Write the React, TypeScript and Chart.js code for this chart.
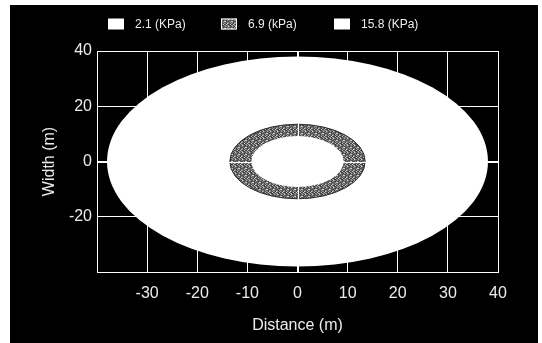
import React, { useEffect, useRef } from 'react';
import { Chart, registerables } from 'chart.js';

Chart.register(...registerables);

// Pressure zones (circles centred at the source), radius in metres
const zoneLabels = ['2.1 (KPa)', '6.9 (kPa)', '15.8 (KPa)'];
const zoneRadii = [38, 13.5, 9.2];
const zoneCenterX = [0, 0, 0];
const zoneCenterY = [0, 0, 0];
const zoneStyles = ['white', 'stipple', 'white'];

// Axis ticks
const xTicks = [-40, -30, -20, -10, 0, 10, 20, 30, 40];
const yTicks = [-40, -20, 0, 20, 40];
const hiddenTicks = [-40];

const FONT = '"Liberation Sans", Arial, sans-serif';
const TEXT = '#ececec';

// texture tones for the stippled fill (visual style only)
const stippleTones = ['#3c3c3c', '#5a5a5a', '#707070', '#8a8a8a', '#a2a2a2', '#cfcfcf', '#4c4c4c'];

function makeStipple(ctx: CanvasRenderingContext2D): CanvasPattern | string {
  const n = 7;
  const c = document.createElement('canvas');
  c.width = n;
  c.height = n;
  const p = c.getContext('2d');
  if (!p) return '#777';
  for (let r = 0; r < n; r++) {
    for (let col = 0; col < n; col++) {
      const k = (r * 3 + col * 5 + ((r * col) % 4)) % stippleTones.length;
      p.fillStyle = stippleTones[k];
      p.fillRect(col, r, 1, 1);
    }
  }
  return ctx.createPattern(c, 'repeat') || '#777';
}

const zonePlugin = {
  id: 'zones',
  beforeDatasetsDraw(chart: any) {
    const { ctx, chartArea, scales } = chart;
    const xs = scales.x;
    const ys = scales.y;
    const stipple = makeStipple(ctx);
    ctx.save();
    ctx.beginPath();
    ctx.rect(chartArea.left, chartArea.top, chartArea.right - chartArea.left, chartArea.bottom - chartArea.top);
    ctx.clip();
    zoneRadii.forEach((r, i) => {
      const cx = xs.getPixelForValue(zoneCenterX[i]);
      const cy = ys.getPixelForValue(zoneCenterY[i]);
      const rx = Math.abs(xs.getPixelForValue(zoneCenterX[i] + r) - cx);
      const ry = Math.abs(ys.getPixelForValue(zoneCenterY[i] + r) - cy);
      ctx.beginPath();
      ctx.ellipse(cx, cy, rx, ry, 0, 0, Math.PI * 2);
      ctx.fillStyle = zoneStyles[i] === 'stipple' ? stipple : '#ffffff';
      ctx.fill();
      if (zoneStyles[i] === 'stipple') {
        ctx.strokeStyle = '#2a2a2a';
        ctx.lineWidth = 1;
        ctx.stroke();
      }
    });
    // zero lines drawn over the zones
    const x0 = Math.round(xs.getPixelForValue(0)) + 0.5;
    const y0 = Math.round(ys.getPixelForValue(0)) + 0.5;
    ctx.strokeStyle = '#ffffff';
    ctx.lineWidth = 1;
    ctx.beginPath();
    ctx.moveTo(x0, chartArea.top);
    ctx.lineTo(x0, chartArea.bottom);
    ctx.moveTo(chartArea.left, y0);
    ctx.lineTo(chartArea.right, y0);
    ctx.stroke();
    ctx.restore();
  },
};

const legendPlugin = {
  id: 'zoneLegend',
  afterDraw(chart: any) {
    const { ctx, width } = chart;
    const stipple = makeStipple(ctx);
    const stride = 113;
    const boxW = 16;
    const boxH = 11;
    const total = stride * (zoneLabels.length - 1) + 88;
    const x = Math.round(width / 2 - 9 - total / 2);
    const yc = 19;
    ctx.save();
    ctx.font = `12px ${FONT}`;
    ctx.textBaseline = 'middle';
    ctx.textAlign = 'left';
    chart.data.datasets.forEach((ds: any, i: number) => {
      const bx = x + i * stride;
      const by = yc - boxH / 2;
      ctx.fillStyle = zoneStyles[i] === 'stipple' ? stipple : '#ffffff';
      ctx.fillRect(bx, by, boxW, boxH);
      if (zoneStyles[i] === 'stipple') {
        ctx.strokeStyle = '#ffffff';
        ctx.lineWidth = 1;
        ctx.strokeRect(bx + 0.5, by + 0.5, boxW - 1, boxH - 1);
      }
      ctx.fillStyle = TEXT;
      ctx.fillText(ds.label, bx + boxW + 11, yc + 1);
    });
    ctx.restore();
  },
};

export default function App() {
  const canvasRef = useRef<HTMLCanvasElement | null>(null);

  useEffect(() => {
    const canvas = canvasRef.current;
    if (!canvas) return;
    const tickCb = (v: any) => (hiddenTicks.includes(Number(v)) ? '' : String(v));
    const chart = new Chart(canvas, {
      type: 'scatter',
      data: {
        datasets: zoneLabels.map((label, i) => ({
          label,
          data: [] as { x: number; y: number }[],
          backgroundColor: zoneStyles[i] === 'stipple' ? '#777777' : '#ffffff',
        })),
      },
      options: {
        animation: false,
        responsive: false,
        layout: { padding: { top: 46, right: 40, left: 0, bottom: 0 } },
        plugins: {
          legend: { display: false },
          tooltip: { enabled: false },
        },
        scales: {
          x: {
            type: 'linear',
            min: -40,
            max: 40,
            afterBuildTicks: (s: any) => {
              s.ticks = xTicks.map((v) => ({ value: v }));
            },
            afterFit: (s: any) => {
              s.height = 71;
            },
            grid: { color: '#ffffff', lineWidth: 1, drawTicks: false },
            border: { color: '#ffffff', width: 1 },
            ticks: {
              color: TEXT,
              font: { family: FONT, size: 16 },
              padding: 12,
              maxRotation: 0,
              autoSkip: false,
              callback: tickCb,
            },
            title: {
              display: true,
              text: 'Distance (m)',
              color: TEXT,
              font: { family: FONT, size: 16 },
              padding: { top: 0, bottom: 8 },
            },
          },
          y: {
            type: 'linear',
            min: -40,
            max: 40,
            afterBuildTicks: (s: any) => {
              s.ticks = yTicks.map((v) => ({ value: v }));
            },
            afterFit: (s: any) => {
              s.width = 87;
            },
            grid: { color: '#ffffff', lineWidth: 1, drawTicks: false },
            border: { color: '#ffffff', width: 1 },
            ticks: {
              color: TEXT,
              font: { family: FONT, size: 16 },
              padding: 5,
              autoSkip: false,
              callback: tickCb,
            },
            title: {
              display: true,
              text: 'Width (m)',
              color: TEXT,
              font: { family: FONT, size: 16 },
              padding: { top: 30, bottom: 0 },
            },
          },
        },
      },
      plugins: [zonePlugin, legendPlugin],
    });
    return () => chart.destroy();
  }, []);

  return (
    <div
      style={{
        position: 'fixed',
        left: 10,
        top: 5,
        width: 528,
        height: 338,
        background: '#000000',
      }}
    >
      <canvas ref={canvasRef} width={528} height={338} style={{ display: 'block', width: 528, height: 338 }} />
    </div>
  );
}
